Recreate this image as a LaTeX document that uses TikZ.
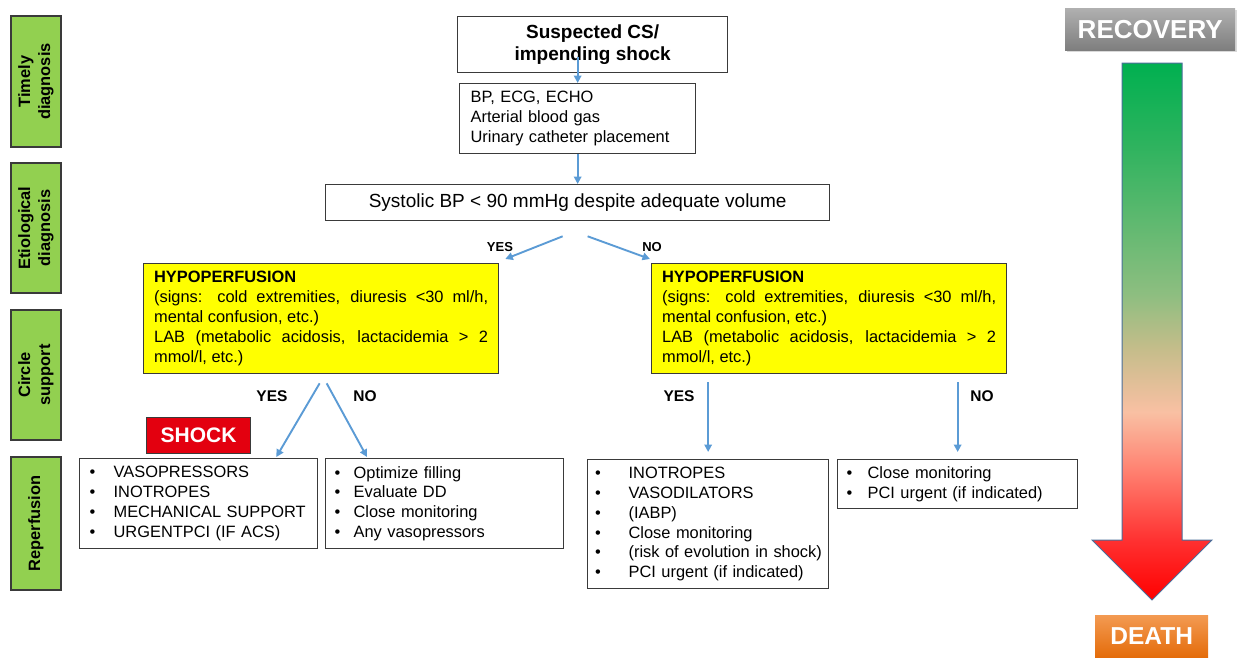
\documentclass[tikz,border=0pt]{standalone}
\usepackage{fontspec}
\setmainfont{Liberation Sans}
\usetikzlibrary{arrows.meta,shadows}

\definecolor{arrowblue}{HTML}{5B9BD5}
\definecolor{lgreen}{HTML}{92D050}
\definecolor{yel}{HTML}{FFFF00}
\definecolor{shockred}{HTML}{E3000F}
\definecolor{boxline}{HTML}{3A3A3A}
\definecolor{arrowedge}{HTML}{4A6E9A}
\definecolor{ca}{HTML}{00B050}
\definecolor{cb}{HTML}{2DB35E}
\definecolor{cc}{HTML}{8DBE80}
\definecolor{cd}{HTML}{C4BD8A}
\definecolor{ce}{HTML}{F9C0A3}
\definecolor{cf}{HTML}{FF8070}
\definecolor{cg}{HTML}{FF3030}
\definecolor{ch}{HTML}{FF0000}
\definecolor{recA}{HTML}{B0B0B0}
\definecolor{recB}{HTML}{7E7E7E}
\definecolor{deaA}{HTML}{F39A52}
\definecolor{deaB}{HTML}{E46C0A}

\pgfdeclareverticalshading{lifearrow}{100bp}{color(0bp)=(ch); color(25bp)=(ch); color(30.5bp)=(cg); color(37bp)=(cf); color(42.5bp)=(ce); color(48.5bp)=(cd); color(53.5bp)=(cc); color(67.5bp)=(cb); color(75bp)=(ca); color(100bp)=(ca)}

\newcommand{\setfs}[2]{\fontsize{#1}{#2}\selectfont}
\newcommand{\bitem}[2]{\mbox{\makebox[#1][l]{\textbullet}#2}}

\tikzset{
  every node/.style={font=\setfs{16.4}{19.8}},
  box/.style={draw=boxline, line width=1.3pt, fill=white},
  ybox/.style={draw=boxline, line width=1.3pt, fill=yel, anchor=north west,
    minimum height=110pt, text width=334pt, inner xsep=10.5pt, inner ysep=0pt,
    align=justify, font=\setfs{16.4}{20}},
  gbox/.style={draw=boxline, line width=1.3pt, fill=lgreen, rotate=90,
    minimum height=50pt, align=center, inner sep=0pt, font=\setfs{16.4}{20}\bfseries},
  lbox/.style={box, anchor=north west, align=left, inner ysep=0pt, font=\setfs{16.4}{19.8}},
  lblA/.style={font=\setfs{13}{15}\bfseries},
  lblB/.style={font=\setfs{15.5}{18}\bfseries},
  arr/.style={draw=arrowblue, line width=1.9pt, -{Triangle[length=7.5pt,width=7.5pt]}}
}

\begin{document}
\begin{tikzpicture}[x=1pt,y=-1pt]
\useasboundingbox (0,0) rectangle (1237,659);

% phase column
\node[gbox, minimum width=131pt] (g1) at (36,81.5) {Timely\\diagnosis};
\node[gbox, minimum width=130pt] (g2) at (36,228) {Etiological\\diagnosis};
\node[gbox, minimum width=130pt] (g3) at (36,375) {Circle\\support};
\node[gbox, minimum width=133pt] (g4) at (36,523.5) {Reperfusion};

% main flow
\node[box, anchor=north west, minimum width=270pt, minimum height=56pt, align=center,
  font=\setfs{19}{22}\bfseries] (top) at (457,16) {Suspected CS/\\impending shock};
\node[box, anchor=north west, minimum height=70pt, text width=214pt, inner xsep=11pt,
  inner ysep=0pt, align=left] (tests) at (459,83)
  {BP, ECG, ECHO\\Arterial blood gas\\Urinary catheter placement};
\node[box, anchor=north west, minimum width=504pt, minimum height=36pt,
  font=\setfs{19}{22}] (sys) at (325,184) {Systolic BP < 90 mmHg despite adequate volume};

\node[ybox] (lyel) at (143,263) {\textbf{HYPOPERFUSION}\\(signs: cold extremities, diuresis <30 ml/h,\linebreak mental confusion, etc.)\\LAB (metabolic acidosis, lactacidemia > 2\linebreak mmol/l, etc.)};
\node[ybox] (ryel) at (651,263) {\textbf{HYPOPERFUSION}\\(signs: cold extremities, diuresis <30 ml/h,\linebreak mental confusion, etc.)\\LAB (metabolic acidosis, lactacidemia > 2\linebreak mmol/l, etc.)};

\node[lblA] (yes1) at (500,247) {YES};
\node[lblA] (no1) at (652,247) {NO};
\node[lblB] (yes2) at (272,396) {YES};
\node[lblB] (no2) at (365,396) {NO};
\node[lblB] (yes3) at (679,396) {YES};
\node[lblB] (no3) at (982,396) {NO};

\node[draw=boxline, line width=1.2pt, fill=shockred, text=white, anchor=north west,
  minimum width=104pt, minimum height=36pt, font=\setfs{21}{24}\bfseries] (shock) at (146,417) {SHOCK};

\node[lbox, minimum height=90pt, text width=218pt, inner xsep=10pt] (lbox) at (79,458)
  {\bitem{24pt}{VASOPRESSORS}\\\bitem{24pt}{INOTROPES}\\\bitem{24pt}{MECHANICAL SUPPORT}\\\bitem{24pt}{URGENTPCI (IF ACS)}};
\node[lbox, minimum height=90pt, text width=220pt, inner xsep=9pt] (mbox) at (325,458)
  {\bitem{19pt}{Optimize filling}\\\bitem{19pt}{Evaluate DD}\\\bitem{19pt}{Close monitoring}\\\bitem{19pt}{Any vasopressors}};
\node[lbox, minimum height=129pt, text width=226pt, inner xsep=7.5pt] (rmid) at (587,459)
  {\bitem{33.5pt}{INOTROPES}\\\bitem{33.5pt}{VASODILATORS}\\\bitem{33.5pt}{(IABP)}\\\bitem{33.5pt}{Close monitoring}\\\bitem{33.5pt}{(risk of evolution in shock)}\\\bitem{33.5pt}{PCI urgent (if indicated)}};
\node[lbox, minimum height=49pt, text width=222pt, inner xsep=9pt] (rbox) at (837,459)
  {\bitem{21pt}{Close monitoring}\\\bitem{21pt}{PCI urgent (if indicated)}};

% connectors
\draw[arr] ([yshift=26pt]tests.north) -- (tests.north);
\draw[arr] (tests.south) -- (sys.north);
\draw[arr] ([xshift=-15pt,yshift=-15pt]sys.south) -- ([xshift=6pt,yshift=4pt]lyel.north east);
\draw[arr] ([xshift=10pt,yshift=-15pt]sys.south) -- ([xshift=-1pt,yshift=4pt]ryel.north west);
\draw[arr] ([xshift=-1.5pt,yshift=-9pt]lyel.south) -- ([xshift=-42pt,yshift=1pt]lbox.north east);
\draw[arr] ([xshift=5.5pt,yshift=-9pt]lyel.south) -- ([xshift=42pt,yshift=1pt]mbox.north west);
\draw[arr] ([yshift=77pt]rmid.north) -- ([yshift=7pt]rmid.north);
\draw[arr] ([yshift=77pt]rbox.north) -- ([yshift=7pt]rbox.north);

% recovery / death scale
\node[anchor=north west, top color=recA, bottom color=recB, draw=none,
  minimum width=170pt, minimum height=42pt, text=white, font=\setfs{26}{30}\bfseries,
  drop shadow={opacity=0.3, shadow xshift=1.5pt, shadow yshift=-2pt}] (rec) at (1065,8) {RECOVERY};
\shadedraw[shading=lifearrow, draw=arrowedge, line width=1pt, line join=miter]
  (1122,63) -- (1182,63) -- (1182,540) -- (1212,540) -- (1152,600) -- (1092,540) -- (1122,540) -- cycle;
\node[anchor=north west, top color=deaA, bottom color=deaB, draw=none,
  minimum width=113pt, minimum height=42pt, text=white, font=\setfs{24.5}{28}\bfseries] (death) at (1095,615) {DEATH};
\end{tikzpicture}
\end{document}
